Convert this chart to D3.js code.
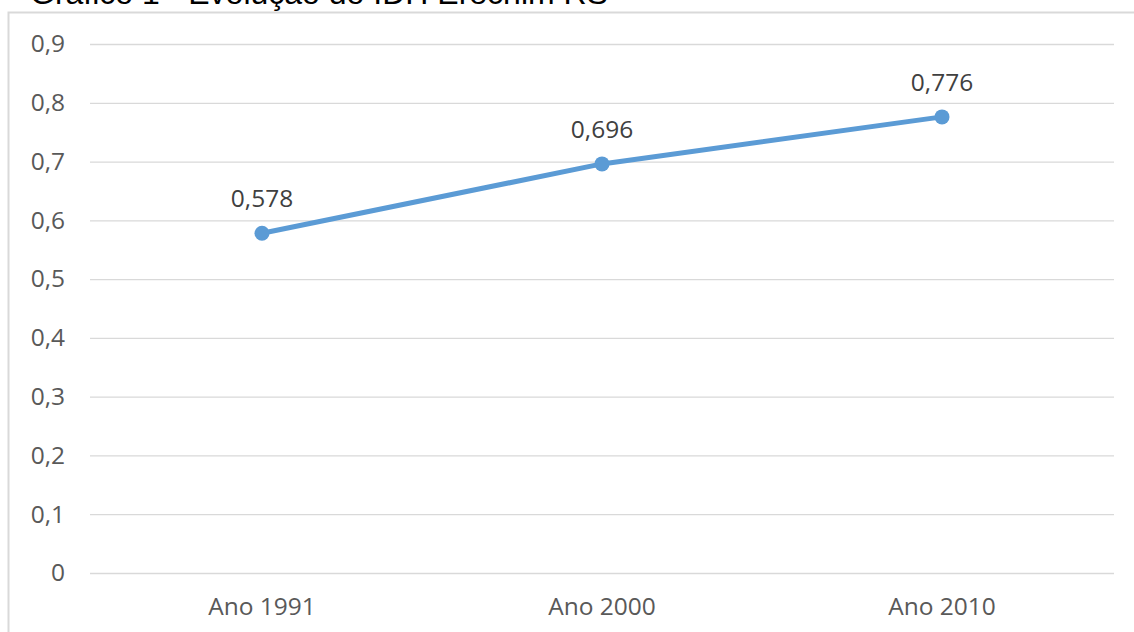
<!DOCTYPE html>
<html>
<head>
<meta charset="utf-8">
<script src="https://cdn.jsdelivr.net/npm/d3@7"></script>
<style>
  html, body { margin: 0; padding: 0; background: #fff; }
  svg { display: block; }
</style>
</head>
<body>
<svg id="chart" width="1134" height="632"></svg>
<script>
// IDH de Erechim (RS) por ano de censo
const categories = ["Ano 1991", "Ano 2000", "Ano 2010"];
const idhValues = [0.578, 0.696, 0.776];
const yTicks = [0, 0.1, 0.2, 0.3, 0.4, 0.5, 0.6, 0.7, 0.8, 0.9];
const titleText = "Gráfico 1 - Evolução do IDH Erechim RS";

const W = 1134, H = 632;
const svg = d3.select("#chart");
const font = "'Open Sans', 'DejaVu Sans', sans-serif";
const ptBR = d3.formatLocale({ decimal: ",", thousands: ".", grouping: [3], currency: ["R$", ""] });
const fmtTick = d => d === 0 ? "0" : ptBR.format(".1f")(d);
const fmtVal = ptBR.format(".3f");

// chart frame (only left and top edges fall inside the view)
svg.append("path")
  .attr("d", `M8.5,${H} V12.5 H${W}`)
  .attr("fill", "none")
  .attr("stroke", "#d9d9d9")
  .attr("stroke-width", 2);

// title, sitting right at the top edge above the frame
svg.append("text")
  .attr("x", 30).attr("y", 4)
  .attr("font-family", "'Liberation Sans', Arial, sans-serif")
  .attr("font-size", 32)
  .attr("fill", "#000")
  .text(titleText);

const x = d3.scaleBand().domain(categories).range([92, 1112]);
const y = d3.scaleLinear().domain([0, 0.9]).range([573, 44]);
const cx = d => x(d) + x.bandwidth() / 2;

// horizontal gridlines + y labels
const yAxis = svg.append("g")
  .attr("transform", "translate(90,0)")
  .call(d3.axisLeft(y).tickValues(yTicks).tickFormat(fmtTick).tickSize(-1024).tickPadding(25));
yAxis.select(".domain").remove();
yAxis.selectAll(".tick line").attr("stroke", "#d9d9d9").attr("stroke-width", 1.3);
yAxis.selectAll(".tick text")
  .attr("font-family", font).attr("font-size", 24.5).attr("fill", "#595959");

// category labels
const xAxis = svg.append("g")
  .attr("transform", "translate(0,573)")
  .call(d3.axisBottom(x).tickSize(0).tickPadding(25));
xAxis.select(".domain").remove();
xAxis.selectAll(".tick text")
  .attr("font-family", font).attr("font-size", 24.5).attr("fill", "#595959");

const data = categories.map((c, i) => ({ c, v: idhValues[i] }));

// series line
svg.append("path")
  .datum(data)
  .attr("fill", "none")
  .attr("stroke", "#5b9bd5")
  .attr("stroke-width", 5)
  .attr("stroke-linejoin", "round")
  .attr("d", d3.line().x(d => cx(d.c)).y(d => y(d.v)));

// markers
svg.selectAll("circle.pt")
  .data(data).join("circle")
  .attr("class", "pt")
  .attr("cx", d => cx(d.c)).attr("cy", d => y(d.v))
  .attr("r", 7.5)
  .attr("fill", "#5b9bd5");

// value labels
svg.selectAll("text.val")
  .data(data).join("text")
  .attr("class", "val")
  .attr("x", d => cx(d.c)).attr("y", d => y(d.v) - 26)
  .attr("text-anchor", "middle")
  .attr("font-family", font).attr("font-size", 24.5)
  .attr("fill", "#404040")
  .text(d => fmtVal(d.v));
</script>
</body>
</html>
